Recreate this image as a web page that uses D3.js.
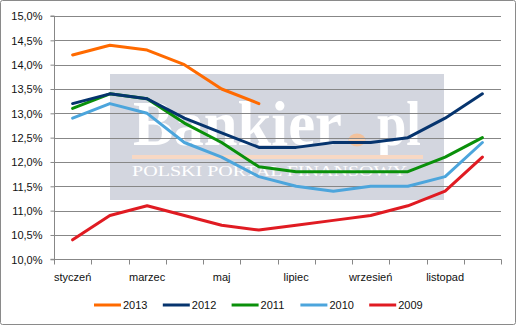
<!DOCTYPE html>
<html>
<head>
<meta charset="utf-8">
<script src="https://cdn.jsdelivr.net/npm/d3@7/dist/d3.min.js"></script>
<style>
  html, body { margin: 0; padding: 0; background: #fff; }
  svg { display: block; }
  text { font-family: "Liberation Sans", Arial, sans-serif; fill: #111; }
</style>
</head>
<body>
<svg id="chart" width="516" height="326"></svg>
<script>
// Monthly interest rates, 2009–2013
const months = ["styczeń", "luty", "marzec", "kwiecień", "maj", "czerwiec",
                "lipiec", "sierpień", "wrzesień", "październik", "listopad", "grudzień"];
const yTicks = [10, 10.5, 11, 11.5, 12, 12.5, 13, 13.5, 14, 14.5, 15];

const years = ["2013", "2012", "2011", "2010", "2009"];
const values2013 = [14.2, 14.4, 14.3, 14.0, 13.5, 13.2];
const values2012 = [13.2, 13.4, 13.3, 12.9, 12.6, 12.3, 12.3, 12.4, 12.4, 12.5, 12.9, 13.4];
const values2011 = [13.1, 13.4, 13.3, 12.8, 12.4, 11.9, 11.8, 11.8, 11.8, 11.8, 12.1, 12.5];
const values2010 = [12.9, 13.2, 13.0, 12.4, 12.1, 11.7, 11.5, 11.4, 11.5, 11.5, 11.7, 12.4];
const values2009 = [10.4, 10.9, 11.1, 10.9, 10.7, 10.6, 10.7, 10.8, 10.9, 11.1, 11.4, 12.1];
const colors = ["#ff6a00", "#06346e", "#0a900a", "#4ca5dc", "#e01b22"];

const seriesValues = [values2013, values2012, values2011, values2010, values2009];

const svg = d3.select("#chart");

// chart frame
svg.append("rect")
  .attr("x", 0.5).attr("y", 0.5)
  .attr("width", 515).attr("height", 324)
  .attr("rx", 2)
  .attr("fill", "#fff")
  .attr("stroke", "#8a8a8a");

const plot = { left: 54, right: 501, top: 16, bottom: 259.3 };

const x = d3.scaleBand().domain(months).range([plot.left, plot.right]).padding(0);
const y = d3.scaleLinear().domain([10, 15]).range([plot.bottom, plot.top]);

// plot-area picture (portal logo)
const logo = svg.append("g");
logo.append("rect")
  .attr("x", 110).attr("y", 74).attr("width", 334).attr("height", 126)
  .attr("fill", "#d3d6df");
logo.append("text")
  .attr("x", 133).attr("y", 145)
  .attr("textLength", 209).attr("lengthAdjust", "spacingAndGlyphs")
  .style("font-family", "'Liberation Serif', 'DejaVu Serif', serif")
  .style("font-weight", "bold").style("font-size", "63px")
  .style("fill", "#ffffff")
  .text("Bankier");
logo.append("text")
  .attr("x", 377).attr("y", 145)
  .attr("textLength", 44).attr("lengthAdjust", "spacingAndGlyphs")
  .style("font-family", "'Liberation Serif', 'DejaVu Serif', serif")
  .style("font-weight", "bold").style("font-size", "63px")
  .style("fill", "#ffffff")
  .text("pl");
logo.append("ellipse")
  .attr("cx", 357).attr("cy", 140).attr("rx", 8.5).attr("ry", 6.5)
  .attr("fill", "#f3c29c");
logo.append("rect")
  .attr("x", 349).attr("y", 139).attr("width", 16).attr("height", 1.5)
  .attr("fill", "#f8d8bf");
logo.append("rect")
  .attr("x", 132).attr("y", 155).attr("width", 291).attr("height", 4)
  .attr("fill", "#f7d8c4");
logo.append("text")
  .attr("x", 132).attr("y", 176)
  .attr("textLength", 275).attr("lengthAdjust", "spacingAndGlyphs")
  .style("font-family", "'Liberation Serif', 'DejaVu Serif', serif")
  .style("font-size", "15px")
  .style("fill", "#ffffff")
  .text("POLSKI PORTAL FINANSOWY");

// horizontal gridlines
svg.append("g")
  .selectAll("line")
  .data(yTicks.slice(1))
  .join("line")
  .attr("x1", plot.left).attr("x2", plot.right)
  .attr("y1", d => Math.round(y(d)) + 0.5).attr("y2", d => Math.round(y(d)) + 0.5)
  .attr("stroke", "#878787").attr("stroke-width", 1);

// y axis
const fmt = d => d.toFixed(1).replace(".", ",") + "%";
const yAxis = svg.append("g")
  .attr("transform", `translate(${plot.left + 0.5},0)`)
  .call(d3.axisLeft(y).tickValues(yTicks).tickFormat(fmt).tickSize(4).tickPadding(8).offset(0));
yAxis.select(".domain").attr("stroke", "#878787");
yAxis.selectAll(".tick line").attr("stroke", "#878787")
  .attr("transform", "translate(0,0.5)");
yAxis.selectAll("text").style("font-size", "11px").style("fill", "#111")
  .attr("dy", "0.4em").style("font-family", "'Liberation Sans', Arial, sans-serif");

// x axis: ticks between categories, labels on every other month
const xAxisG = svg.append("g")
  .attr("transform", `translate(0,${Math.round(plot.bottom) + 0.5})`);
xAxisG.append("line")
  .attr("x1", plot.left).attr("x2", plot.right + 0.5)
  .attr("stroke", "#878787");
const boundaries = months.map(m => x(m)).concat([x.range()[1]]);
xAxisG.selectAll("line.tk")
  .data(boundaries)
  .join("line")
  .attr("class", "tk")
  .attr("x1", d => Math.round(d) + 0.5).attr("x2", d => Math.round(d) + 0.5)
  .attr("y1", 0).attr("y2", 5)
  .attr("stroke", "#878787");
xAxisG.selectAll("text")
  .data(months.filter((m, i) => i % 2 === 0))
  .join("text")
  .attr("x", d => x(d) + x.bandwidth() / 2)
  .attr("y", 21.5)
  .attr("text-anchor", "middle")
  .style("font-size", "11px")
  .text(d => d);

// series lines (drawn from the oldest year up)
const line = d3.line()
  .x((d, i) => x(months[i]) + x.bandwidth() / 2)
  .y(d => y(d));

const order = [4, 3, 2, 1, 0];
svg.append("g")
  .selectAll("path")
  .data(order)
  .join("path")
  .attr("d", i => line(seriesValues[i]))
  .attr("fill", "none")
  .attr("stroke", i => colors[i])
  .attr("stroke-width", 3)
  .attr("stroke-linejoin", "round")
  .attr("stroke-linecap", "round");

// legend
const legend = svg.append("g").attr("transform", "translate(94,305)");
const item = legend.selectAll("g")
  .data(years)
  .join("g")
  .attr("transform", (d, i) => `translate(${i * 68.8},0)`);
item.append("line")
  .attr("x1", 0).attr("x2", 27)
  .attr("y1", 0).attr("y2", 0)
  .attr("stroke", (d, i) => colors[i])
  .attr("stroke-width", 3);
item.append("text")
  .attr("x", 29).attr("y", 4)
  .style("font-size", "11px")
  .text(d => d);
</script>
</body>
</html>
